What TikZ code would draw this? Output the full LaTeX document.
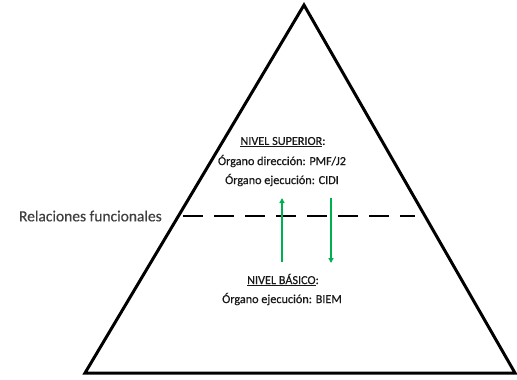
\documentclass[tikz,border=0pt]{standalone}
\usepackage{fontspec}
\setmainfont{Carlito}
\newfontfamily\txtfont{Carlito}[FakeBold=0.5]
\usetikzlibrary{arrows.meta}
\definecolor{ogreen}{RGB}{0,176,80}
\newcommand{\myul}[1]{\underline{#1}}
\begin{document}
\begin{tikzpicture}[x=1pt,y=-1pt,
  txt/.style={font=\txtfont\fontsize{12.2}{14}\selectfont, inner sep=0pt, anchor=center, text=black!90},
  greenarrow/.style={draw=ogreen, line width=2.2pt, -{Triangle[length=5pt,width=5pt]}}]
\useasboundingbox (0,0) rectangle (517,380);
\coordinate (apex) at (304,5);
\coordinate (bl) at (85,373);
\coordinate (br) at (515,373);
\draw[line width=3pt, line join=miter] (apex) -- (br) -- (bl) -- cycle;
\coordinate (dl) at (183,216);
\coordinate (dr) at (415,216);
\draw[line width=2.8pt, dash pattern=on 20pt off 11pt] (dl) -- (dr);
\node[txt, font=\txtfont\fontsize{15.5}{18}\selectfont, anchor=east, text=black!75] (rel) at (162,216) {Relaciones funcionales};
\coordinate (u1) at (282,262);
\coordinate (u2) at (282,198);
\coordinate (d1) at (331,198);
\coordinate (d2) at (331,263);
\draw[greenarrow] (u1) -- (u2);
\draw[greenarrow] (d1) -- (d2);
\node[txt] (sup) at (283,142) {\myul{NIVEL SUPERIOR}:};
\node[txt] (dir) at (282,161) {Órgano dirección: PMF/J2};
\node[txt] (eje) at (282,180) {Órgano ejecución: CIDI};
\node[txt] (bas) at (283,280) {\myul{NIVEL BÁSICO}:};
\node[txt] (ejb) at (282,299) {Órgano ejecución: BIEM};
\end{tikzpicture}
\end{document}
